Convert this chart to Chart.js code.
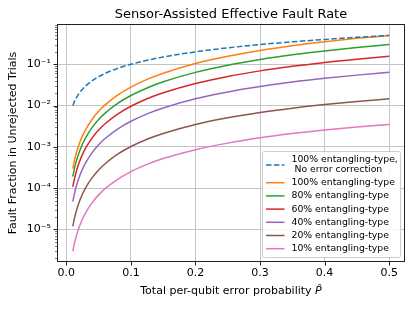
<!DOCTYPE html>
<html>
<head>
<meta charset="utf-8">
<script src="https://cdn.jsdelivr.net/npm/chart.js@4"></script>
<style>
  html, body { margin: 0; padding: 0; background: #fff; }
  #wrap { width: 415px; height: 311px; }
</style>
</head>
<body>
<div id="wrap"><canvas id="chart" width="415" height="311"></canvas></div>
<script>
// error probability values along the x axis
const pVals = [0.01, 0.0125, 0.015, 0.02, 0.025, 0.03, 0.04, 0.05, 0.06, 0.08, 0.1, 0.125, 0.15, 0.2, 0.25, 0.3, 0.35, 0.4, 0.45, 0.5];

// fault fraction, one array per curve
const noCorrection = [0.01, 0.0125, 0.015, 0.02, 0.025, 0.03, 0.04, 0.05, 0.06, 0.08, 0.1, 0.125, 0.15, 0.2, 0.25, 0.3, 0.35, 0.4, 0.45, 0.5];
const ent100 = [2.98e-4, 4.65e-4, 6.68e-4, 1.18e-3, 1.84e-3, 2.65e-3, 4.67e-3, 7.25e-3, 1.04e-2, 1.82e-2, 2.8e-2, 4.3e-2, 6.08e-2, 0.104, 0.156, 0.216, 0.282, 0.352, 0.425, 0.5];
const ent80 = [1.90e-4, 2.97e-4, 4.26e-4, 7.54e-4, 1.17e-3, 1.68e-3, 2.96e-3, 4.58e-3, 6.54e-3, 1.14e-2, 1.75e-2, 2.67e-2, 3.76e-2, 6.37e-2, 9.50e-2, 0.131, 0.170, 0.211, 0.255, 0.301];
const ent60 = [1.07e-4, 1.66e-4, 2.39e-4, 4.22e-4, 6.55e-4, 9.38e-4, 1.65e-3, 2.54e-3, 3.62e-3, 6.29e-3, 9.60e-3, 1.46e-2, 2.04e-2, 3.43e-2, 5.07e-2, 6.92e-2, 8.93e-2, 0.111, 0.133, 0.156];
const ent40 = [4.73e-5, 7.37e-5, 1.06e-4, 1.87e-4, 2.89e-4, 4.14e-4, 7.25e-4, 1.12e-3, 1.59e-3, 2.74e-3, 4.16e-3, 6.29e-3, 8.76e-3, 1.46e-2, 2.14e-2, 2.89e-2, 3.71e-2, 4.57e-2, 5.46e-2, 6.37e-2];
const ent20 = [1.18e-5, 1.84e-5, 2.63e-5, 4.64e-5, 7.19e-5, 1.03e-4, 1.79e-4, 2.76e-4, 3.90e-4, 6.72e-4, 1.02e-3, 1.53e-3, 2.11e-3, 3.49e-3, 5.06e-3, 6.80e-3, 8.65e-3, 1.06e-2, 1.26e-2, 1.46e-2];
const ent10 = [2.95e-6, 4.58e-6, 6.57e-6, 1.16e-5, 1.79e-5, 2.56e-5, 4.46e-5, 6.85e-5, 9.69e-5, 1.66e-4, 2.51e-4, 3.76e-4, 5.19e-4, 8.52e-4, 1.23e-3, 1.65e-3, 2.09e-3, 2.54e-3, 3.01e-3, 3.49e-3];

const seriesLabels = [
  ['100% entangling-type,', ' No error correction'],
  '100% entangling-type',
  '80% entangling-type',
  '60% entangling-type',
  '40% entangling-type',
  '20% entangling-type',
  '10% entangling-type'
];
const seriesValues = [noCorrection, ent100, ent80, ent60, ent40, ent20, ent10];
const colours = ['#1f77b4', '#ff7f0e', '#2ca02c', '#d62728', '#9467bd', '#8c564b', '#e377c2'];

const xTicks = [0, 0.1, 0.2, 0.3, 0.4, 0.5];
const yTicks = [1e-5, 1e-4, 1e-3, 1e-2, 1e-1];
const yTickLabels = ['10⁻⁵', '10⁻⁴', '10⁻³', '10⁻²', '10⁻¹'];

const FONT = 'DejaVu Sans';
const DASH = [5.5, 2.4];

function makeDatasets() {
  return seriesValues.map((vals, i) => ({
    label: seriesLabels[i],
    data: pVals.map((p, j) => ({ x: p, y: vals[j] })),
    borderColor: colours[i],
    backgroundColor: colours[i],
    borderWidth: 1.5,
    borderDash: i === 0 ? DASH : [],
    pointRadius: 0,
    cubicInterpolationMode: 'monotone',
    fill: false
  }));
}

// frame, tick marks, minor log ticks, titles and legend box
const decorPlugin = {
  id: 'decor',
  afterDraw(chart) {
    let ctx = chart.ctx, area = chart.chartArea;
    let xs = chart.scales.x, ys = chart.scales.y;
    ctx.save();
    ctx.strokeStyle = '#222';
    ctx.lineWidth = 1;
    ctx.strokeRect(area.left + 0.5, area.top + 0.5, area.right - area.left - 1, area.bottom - area.top - 1);

    ctx.beginPath();
    xTicks.forEach(v => {
      let px = Math.round(xs.getPixelForValue(v)) + 0.5;
      ctx.moveTo(px, area.bottom); ctx.lineTo(px, area.bottom + 3.5);
    });
    yTicks.forEach(v => {
      let py = Math.round(ys.getPixelForValue(v)) + 0.5;
      ctx.moveTo(area.left, py); ctx.lineTo(area.left - 3.5, py);
    });
    ctx.stroke();

    ctx.beginPath();
    for (let e = -6; e <= 0; e++) {
      for (let m = 2; m <= 9; m++) {
        let v = m * Math.pow(10, e);
        if (v < ys.min || v > ys.max) continue;
        let py = Math.round(ys.getPixelForValue(v)) + 0.5;
        ctx.moveTo(area.left, py); ctx.lineTo(area.left - 2, py);
      }
    }
    ctx.lineWidth = 0.6;
    ctx.stroke();

    ctx.fillStyle = '#000';
    ctx.font = '13px "' + FONT + '"';
    ctx.textAlign = 'center';
    ctx.textBaseline = 'middle';
    ctx.fillText('Sensor-Assisted Effective Fault Rate', (area.left + area.right) / 2, 15);

    // x axis title with italic P hat
    let plain = 'Total per-qubit error probability ';
    let sym = 'P̂';
    ctx.font = '11px "' + FONT + '"';
    let w1 = ctx.measureText(plain).width;
    ctx.font = 'italic 11px "' + FONT + '"';
    let w2 = ctx.measureText(sym).width;
    let x0 = (area.left + area.right) / 2 - (w1 + w2) / 2;
    ctx.textAlign = 'left';
    ctx.font = '11px "' + FONT + '"';
    ctx.fillText(plain, x0, 291);
    ctx.font = 'italic 11px "' + FONT + '"';
    ctx.fillText(sym, x0 + w1, 291);

    drawLegend(ctx, chart);
    ctx.restore();
  }
};

function drawLegend(ctx, chart) {
  let left = 262.5, top = 151.5, w = 138, h = 106;
  ctx.fillStyle = 'rgba(255,255,255,0.85)';
  ctx.strokeStyle = '#ccc';
  ctx.lineWidth = 1;
  ctx.beginPath();
  ctx.roundRect(left, top, w, h, 2);
  ctx.fill();
  ctx.stroke();

  let rows = [165, 182.7, 195.9, 209.1, 222.3, 235.5, 248.7];
  ctx.font = '9.3px "' + FONT + '"';
  ctx.textAlign = 'left';
  ctx.textBaseline = 'middle';
  chart.data.datasets.forEach((ds, i) => {
    let y = rows[i];
    ctx.strokeStyle = ds.borderColor;
    ctx.lineWidth = 1.5;
    ctx.setLineDash(ds.borderDash);
    ctx.beginPath();
    ctx.moveTo(266, y); ctx.lineTo(284.5, y);
    ctx.stroke();
    ctx.setLineDash([]);
    ctx.fillStyle = '#000';
    if (Array.isArray(ds.label)) {
      ctx.fillText(ds.label[0], 291.5, y - 5);
      ctx.fillText(ds.label[1], 291.5, y + 5);
    } else {
      ctx.fillText(ds.label, 291.5, y);
    }
  });
}

new Chart(document.getElementById('chart'), {
  type: 'line',
  data: { datasets: makeDatasets() },
  options: {
    responsive: false,
    animation: false,
    layout: { padding: { left: 3, right: 10, top: 24, bottom: 0 } },
    plugins: { legend: { display: false }, tooltip: { enabled: false }, title: { display: false } },
    scales: {
      x: {
        type: 'linear',
        min: -0.0145,
        max: 0.5245,
        afterBuildTicks: scale => { scale.ticks = xTicks.map(v => ({ value: v })); },
        afterFit: scale => { scale.height = 49; },
        ticks: {
          color: '#000', font: { family: FONT, size: 11 }, padding: 5, maxRotation: 0,
          callback: v => v.toFixed(1)
        },
        grid: { color: '#c4c4c4', lineWidth: 1, drawTicks: false },
        border: { display: false }
      },
      y: {
        type: 'logarithmic',
        min: 1.62e-6,
        max: 0.946,
        afterBuildTicks: scale => { scale.ticks = yTicks.map(v => ({ value: v })); },
        afterFit: scale => { scale.width = 54; },
        ticks: {
          color: '#000', font: { family: FONT, size: 11 }, padding: 6,
          callback: v => yTickLabels[yTicks.findIndex(t => Math.abs(Math.log10(t) - Math.log10(v)) < 1e-6)] || ''
        },
        grid: { color: '#c4c4c4', lineWidth: 1, drawTicks: false },
        border: { display: false },
        title: {
          display: true, text: 'Fault Fraction in Unrejected Trials',
          color: '#000', font: { family: FONT, size: 11 }, padding: { bottom: 2 }
        }
      }
    }
  },
  plugins: [decorPlugin]
});
</script>
</body>
</html>
